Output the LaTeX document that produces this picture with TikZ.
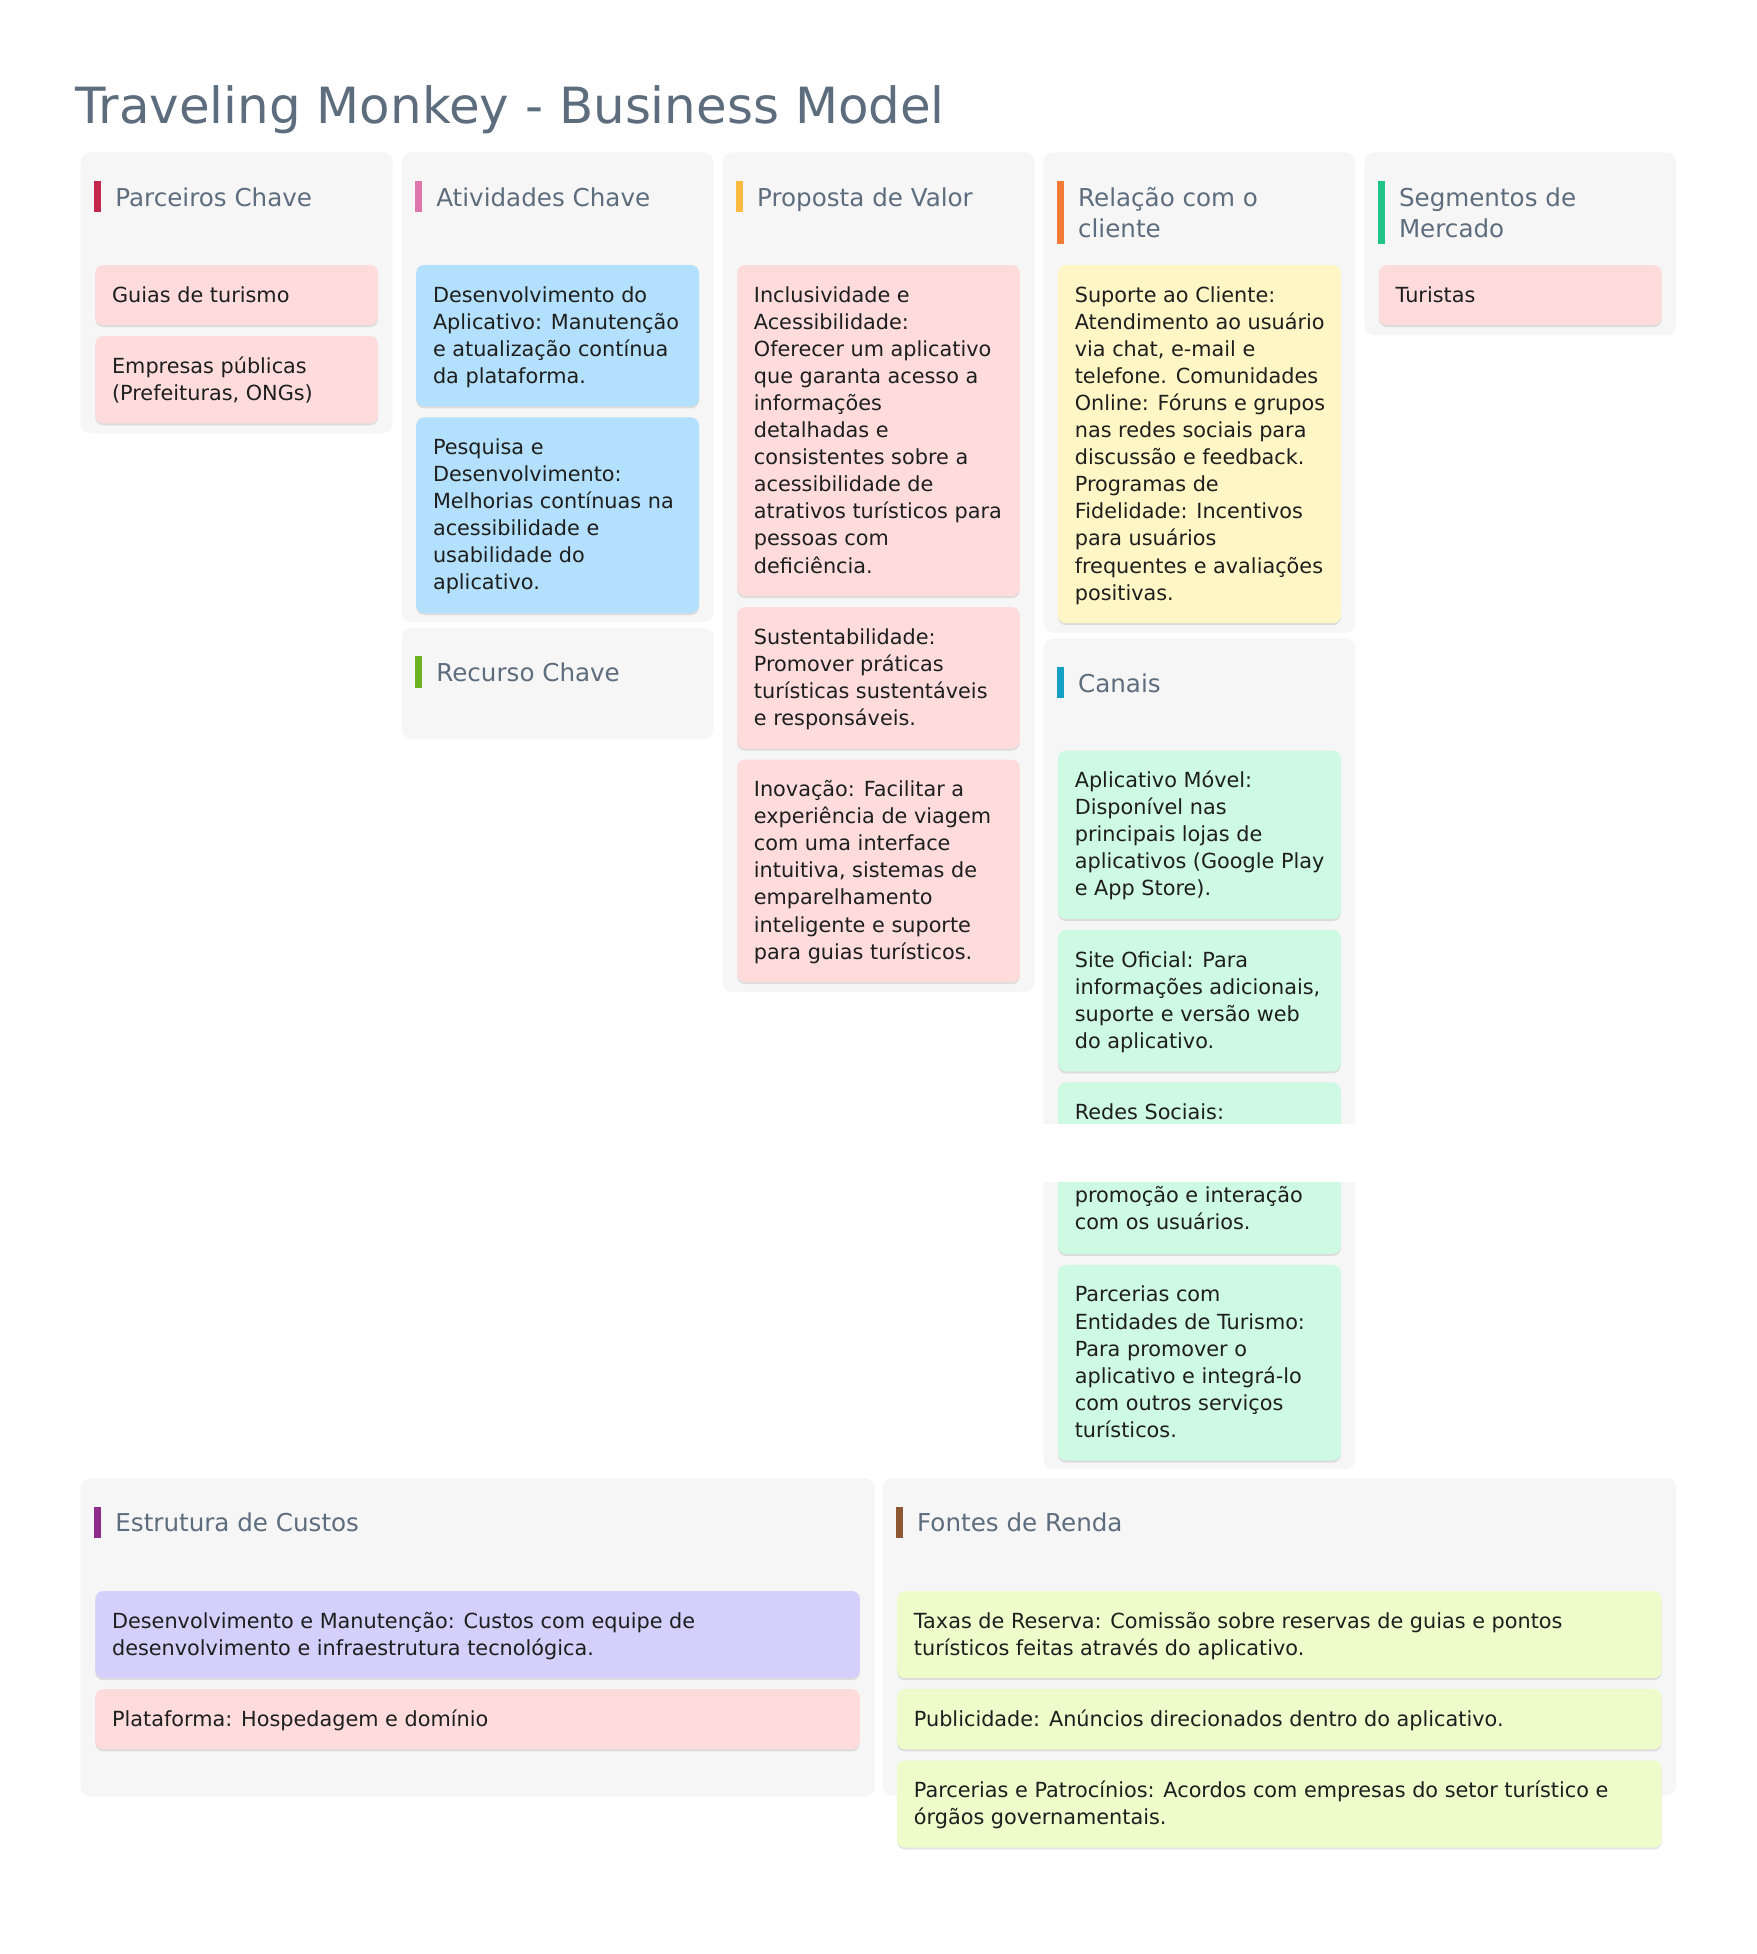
\documentclass[tikz,border=0pt]{standalone}
\usepackage{fontspec}
\setmainfont{DejaVu Sans}
\usetikzlibrary{shadows}
\definecolor{colbg}{RGB}{246,246,246}
\definecolor{headink}{RGB}{93,109,126}
\definecolor{cardink}{RGB}{30,30,30}
\definecolor{cpink}{RGB}{254,220,220}
\definecolor{cblue}{RGB}{179,224,252}
\definecolor{cyellow}{RGB}{254,246,196}
\definecolor{cgreen}{RGB}{206,249,226}
\definecolor{cpurple}{RGB}{212,207,251}
\definecolor{clime}{RGB}{238,251,202}
\definecolor{bparc}{RGB}{196,38,77}
\definecolor{bativ}{RGB}{222,118,171}
\definecolor{bprop}{RGB}{252,186,63}
\definecolor{brel}{RGB}{243,122,54}
\definecolor{bseg}{RGB}{33,196,135}
\definecolor{brec}{RGB}{108,178,33}
\definecolor{bcan}{RGB}{22,159,196}
\definecolor{bcus}{RGB}{141,44,140}
\definecolor{bfon}{RGB}{143,88,52}
\tikzset{
  colbox/.style={fill=colbg, rounded corners=5pt},
  cardbox/.style={rounded corners=4pt, drop shadow={shadow xshift=0pt, shadow yshift=-1pt, opacity=0.10, fill=black}},
  cardtext/.style={anchor=base west, inner sep=0pt, align=left, text=cardink, font=\fontsize{10.4pt}{13.55pt}\selectfont},
  headtext/.style={anchor=base west, inner sep=0pt, align=left, text=headink, font=\fontsize{12.3pt}{15.85pt}\selectfont},
  titletext/.style={anchor=base west, inner sep=0pt, text=headink, font=\fontsize{24.95pt}{30pt}\selectfont},
}
% #1 name, #2 x, #3 y, #4 width, #5 lines, #6 colour, #7 text
% (the base anchor of a multi-line node is the baseline of its last line)
\newcommand\mkcard[7]{%
  \path[cardbox, fill=#6] (#2,#3) rectangle ++(#4, 33+27.1*#5);
  \node[cardtext] (#1) at (#2+16.4, #3+37+27.1*#5-27.1) {#7};
}
% #1 name, #2 column x, #3 column y, #4 bar colour, #5 text, #6 lines
\newcommand\mkhead[6]{%
  \fill[#4] (#2+13.6,#3+28.7) rectangle (#2+20.3,#3+28.7+31.3*#6);
  \node[headtext] (#1) at (#2+34.3,#3+53.7+31.7*#6-31.7) {#5};
}
\begin{document}
\begin{tikzpicture}[x=0.5pt,y=-0.5pt]
\useasboundingbox (0,0) rectangle (1756,1954);

\node[titletext] (title) at (75,123) {Traveling Monkey - Business Model};

% ---------- columns ----------
\path[colbox] (80.7,152.3) rectangle ++(312,281);
\path[colbox] (401.6,152.3) rectangle ++(312,470.2);
\path[colbox] (401.6,627.7) rectangle ++(312,111.3);
\path[colbox] (722.5,152.3) rectangle ++(312,839.7);
\path[colbox] (1043.4,152.3) rectangle ++(312,480.4);
\path[colbox] (1043.4,638.3) rectangle ++(312,831);
\path[colbox] (1364.3,152.3) rectangle ++(312,183);
\path[colbox] (80.7,1478) rectangle ++(793.8,318.7);
\path[colbox] (882.5,1478) rectangle ++(793.8,317.5);

% ---------- headers ----------
\mkhead{hparc}{80.7}{152.3}{bparc}{Parceiros Chave}{1}
\mkhead{hativ}{401.6}{152.3}{bativ}{Atividades Chave}{1}
\mkhead{hrec}{401.6}{627.7}{brec}{Recurso Chave}{1}
\mkhead{hprop}{722.5}{152.3}{bprop}{Proposta de Valor}{1}
\mkhead{hrel}{1043.4}{152.3}{brel}{Relação com o\\cliente}{2}
\mkhead{hcan}{1043.4}{638.3}{bcan}{Canais}{1}
\mkhead{hseg}{1364.3}{152.3}{bseg}{Segmentos de\\Mercado}{2}
\mkhead{hcus}{80.7}{1478}{bcus}{Estrutura de Custos}{1}
\mkhead{hfon}{882.5}{1478}{bfon}{Fontes de Renda}{1}

% ---------- Parceiros Chave ----------
\mkcard{parc1}{95.3}{265}{282.8}{1}{cpink}{Guias de turismo}
\mkcard{parc2}{95.3}{336.1}{282.8}{2}{cpink}{Empresas públicas\\(Prefeituras, ONGs)}

% ---------- Atividades Chave ----------
\mkcard{ativ1}{416.2}{265}{282.8}{4}{cblue}{Desenvolvimento do\\Aplicativo: Manutenção\\e atualização contínua\\da plataforma.}
\mkcard{ativ2}{416.2}{417.4}{282.8}{6}{cblue}{Pesquisa e\\Desenvolvimento:\\Melhorias contínuas na\\acessibilidade e\\usabilidade do\\aplicativo.}

% ---------- Proposta de Valor ----------
\mkcard{prop1}{737.1}{265}{282.8}{11}{cpink}{Inclusividade e\\Acessibilidade:\\Oferecer um aplicativo\\que garanta acesso a\\informações\\detalhadas e\\consistentes sobre a\\acessibilidade de\\atrativos turísticos para\\pessoas com\\deficiência.}
\mkcard{prop2}{737.1}{607.1}{282.8}{4}{cpink}{Sustentabilidade:\\Promover práticas\\turísticas sustentáveis\\e responsáveis.}
\mkcard{prop3}{737.1}{759.5}{282.8}{7}{cpink}{Inovação: Facilitar a\\experiência de viagem\\com uma interface\\intuitiva, sistemas de\\emparelhamento\\inteligente e suporte\\para guias turísticos.}

% ---------- Relação com o cliente ----------
\mkcard{rel1}{1058}{265}{282.8}{12}{cyellow}{Suporte ao Cliente:\\Atendimento ao usuário\\via chat, e-mail e\\telefone. Comunidades\\Online: Fóruns e grupos\\nas redes sociais para\\discussão e feedback.\\Programas de\\Fidelidade: Incentivos\\para usuários\\frequentes e avaliações\\positivas.}

% ---------- Canais ----------
\mkcard{can1}{1058}{750.5}{282.8}{5}{cgreen}{Aplicativo Móvel:\\Disponível nas\\principais lojas de\\aplicativos (Google Play\\e App Store).}
\mkcard{can2}{1058}{930}{282.8}{4}{cgreen}{Site Oficial: Para\\informações adicionais,\\suporte e versão web\\do aplicativo.}
\path[cardbox, fill=cgreen] (1058,1082.4) rectangle ++(282.8,171.5);
\node[cardtext] (can3a) at (1074.4,1119.4) {Redes Sociais:};
\node[cardtext] (can3b) at (1074.4,1229.8) {promoção e interação\\com os usuários.};
\mkcard{can4}{1058}{1264.9}{282.8}{6}{cgreen}{Parcerias com\\Entidades de Turismo:\\Para promover o\\aplicativo e integrá-lo\\com outros serviços\\turísticos.}

% ---------- Segmentos de Mercado ----------
\mkcard{seg1}{1378.9}{265}{282.8}{1}{cpink}{Turistas}

% ---------- Estrutura de Custos ----------
\mkcard{cus1}{95.3}{1591}{764.6}{2}{cpurple}{Desenvolvimento e Manutenção: Custos com equipe de\\desenvolvimento e infraestrutura tecnológica.}
\mkcard{cus2}{95.3}{1689.2}{764.6}{1}{cpink}{Plataforma: Hospedagem e domínio}

% ---------- Fontes de Renda ----------
\mkcard{fon1}{897.1}{1591}{764.6}{2}{clime}{Taxas de Reserva: Comissão sobre reservas de guias e pontos\\turísticos feitas através do aplicativo.}
\mkcard{fon2}{897.1}{1689.2}{764.6}{1}{clime}{Publicidade: Anúncios direcionados dentro do aplicativo.}
\mkcard{fon3}{897.1}{1760.3}{764.6}{2}{clime}{Parcerias e Patrocínios: Acordos com empresas do setor turístico e\\órgãos governamentais.}

% ---------- white band over Canais ----------
\fill[white] (1036,1124) rectangle (1362,1182);
\end{tikzpicture}
\end{document}
